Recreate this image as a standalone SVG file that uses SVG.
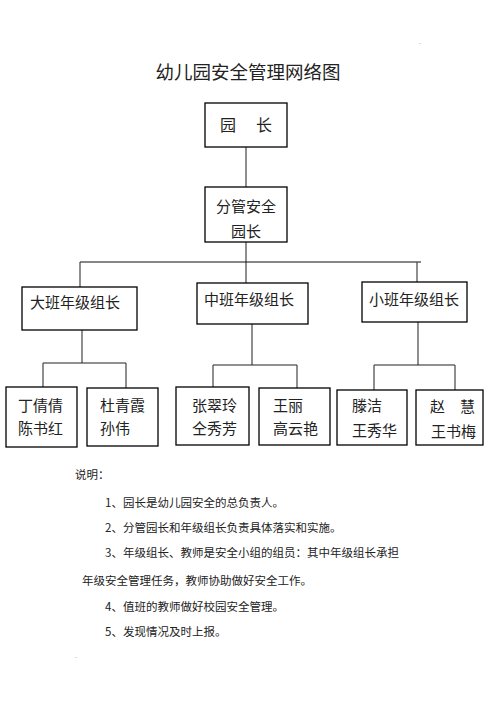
<svg xmlns="http://www.w3.org/2000/svg" width="496" height="702" viewBox="0 0 496 702">
<style>
text{font-family:"Noto Sans CJK SC","Noto Sans",sans-serif;fill:#222}
.box{fill:#fff;stroke:#000;stroke-width:1.3}
.t{font-size:15px}
.n{font-size:11.5px}
#connectors line{stroke:#444;stroke-width:1.2}
</style>
<rect width="496" height="702" fill="#fff"/>
<text x="248" y="79" text-anchor="middle" font-size="18.5">幼儿园安全管理网络图</text>
<g id="connectors">
<line x1="246" y1="147" x2="246" y2="187"/>
<line x1="246" y1="242" x2="246" y2="283"/>
<line x1="80" y1="262" x2="421" y2="262" style="stroke:#111"/>
<line x1="80" y1="262" x2="80" y2="287"/>
<line x1="417" y1="262" x2="417" y2="282"/>
<line x1="82" y1="330" x2="82" y2="363"/>
<line x1="43" y1="363" x2="126" y2="363" style="stroke:#222"/>
<line x1="43" y1="363" x2="43" y2="387"/>
<line x1="126" y1="363" x2="126" y2="388"/>
<line x1="252" y1="324" x2="252" y2="365"/>
<line x1="213" y1="365" x2="297" y2="365" style="stroke:#222"/>
<line x1="213" y1="365" x2="213" y2="387"/>
<line x1="297" y1="365" x2="297" y2="388"/>
<line x1="418" y1="322" x2="418" y2="365"/>
<line x1="374" y1="365" x2="455" y2="365" style="stroke:#222"/>
<line x1="374" y1="365" x2="374" y2="390"/>
<line x1="455" y1="365" x2="455" y2="390"/>
</g>
<g id="yuanzhang">
<rect class="box" x="205" y="103" width="82" height="44"/>
<text x="220" y="131" font-size="16">园</text>
<text x="256" y="131" font-size="16">长</text>
</g>
<g id="fenguan">
<rect class="box" x="205" y="187" width="82" height="55"/>
<text x="246" y="212" text-anchor="middle" class="t">分管安全</text>
<text x="246" y="237" text-anchor="middle" class="t">园长</text>
</g>
<g id="daban">
<rect class="box" x="22" y="287" width="115" height="43"/>
<text x="30" y="308" class="t">大班年级组长</text>
</g>
<g id="zhongban">
<rect class="box" x="197" y="283" width="111" height="41"/>
<text x="204" y="305" class="t">中班年级组长</text>
</g>
<g id="xiaoban">
<rect class="box" x="362" y="282" width="105" height="40"/>
<text x="369" y="305" class="t">小班年级组长</text>
</g>
<g id="leaf1">
<rect class="box" x="6" y="387" width="71" height="60"/>
<text x="18" y="411" class="t">丁倩倩</text>
<text x="18" y="434" class="t">陈书红</text>
</g>
<g id="leaf2">
<rect class="box" x="87" y="388" width="71" height="58"/>
<text x="100" y="411" class="t">杜青霞</text>
<text x="100" y="434" class="t">孙伟</text>
</g>
<g id="leaf3">
<rect class="box" x="176" y="387" width="73" height="58"/>
<text x="192" y="411" class="t">张翠玲</text>
<text x="192" y="434" class="t">仝秀芳</text>
</g>
<g id="leaf4">
<rect class="box" x="259" y="388" width="71" height="57"/>
<text x="273" y="411" class="t">王丽</text>
<text x="273" y="434" class="t">高云艳</text>
</g>
<g id="leaf5">
<rect class="box" x="337" y="390" width="70" height="55"/>
<text x="352" y="411" class="t">滕洁</text>
<text x="352" y="436" class="t">王秀华</text>
</g>
<g id="leaf6">
<rect class="box" x="416" y="390" width="67" height="55"/>
<text x="430" y="412" class="t">赵</text>
<text x="460" y="412" class="t">慧</text>
<text x="431" y="437" class="t">王书梅</text>
</g>
<g id="notes">
<text x="75" y="479" class="n">说明：</text>
<text x="105" y="507" class="n">1、园长是幼儿园安全的总负责人。</text>
<text x="105" y="532" class="n">2、分管园长和年级组长负责具体落实和实施。</text>
<text x="105" y="557" class="n">3、年级组长、教师是安全小组的组员：其中年级组长承担</text>
<text x="82" y="585" class="n">年级安全管理任务，教师协助做好安全工作。</text>
<text x="105" y="611" class="n">4、值班的教师做好校园安全管理。</text>
<text x="105" y="636" class="n">5、发现情况及时上报。</text>
</g>
<text x="419" y="44" font-size="6" style="fill:#666">.</text>
<text x="75" y="658" font-size="6" style="fill:#666">.</text>
</svg>
